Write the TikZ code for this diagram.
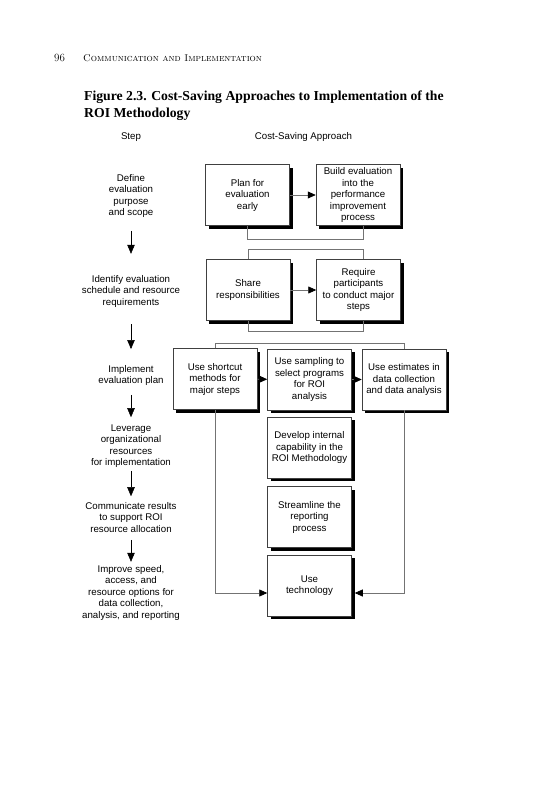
\documentclass[tikz,border=0pt]{standalone}
\usepackage{fontspec}
\setsansfont{Liberation Sans}
\newfontfamily\titlefont{Liberation Serif}
\usetikzlibrary{arrows.meta,positioning,shadows}

\tikzset{
 apbox/.style={draw=black!75,line width=.5pt,fill=white,minimum width=84pt,minimum height=61pt,
   align=center,inner sep=1pt,font=\sffamily\fontsize{9.7}{11.5}\selectfont,
   drop shadow={shadow xshift=3pt,shadow yshift=-3pt,fill=black,opacity=1}},
 stepnote/.style={align=center,inner sep=0pt,font=\sffamily\fontsize{9.7}{11.5}\selectfont},
 steparrow/.style={line width=.5pt,-{Triangle[length=9pt,width=7.5pt]}},
 link/.style={draw=black!55,line width=.7pt},
 flow/.style={link,-{Triangle[length=8pt,width=7pt,color=black]}}
}

\begin{document}
\begin{tikzpicture}[x=1pt,y=-1pt]
\useasboundingbox[fill=white] (0,0) rectangle (535,800);

% page head and caption
\node[anchor=base west,inner sep=0pt,font=\fontsize{11}{13}\selectfont] (folio) at (54,62) {96};
\node[anchor=base west,inner sep=0pt,font=\fontsize{9.8}{13}\selectfont] (runhead) at (83,62) {\textsc{Communication and Implementation}};
\node[anchor=base west,align=left,inner sep=0pt,font=\titlefont\bfseries\fontsize{13.7}{17}\selectfont] (caption) at (84,117.5)
  {Figure 2.3. Cost-Saving Approaches to Implementation of the\\ROI Methodology};

% column heads
\node[stepnote] (stephead) at (131,137) {Step};
\node[stepnote] (approachhead) at (303.5,137) {Cost-Saving Approach};

% steps
\node[stepnote] (define) at (131,196) {Define\\evaluation\\purpose\\and scope};
\node[stepnote] (identify) at (131,291) {Identify evaluation\\schedule and resource\\requirements};
\node[stepnote] (implement) at (131,375.5) {Implement\\evaluation plan};
\node[stepnote] (leverage) at (131,446) {Leverage\\organizational\\resources\\for implementation};
\node[stepnote] (communicate) at (131,517.5) {Communicate results\\to support ROI\\resource allocation};
\node[stepnote] (improve) at (131,592.5) {Improve speed,\\access, and\\resource options for\\data collection,\\analysis, and reporting};

\draw[steparrow,shorten <=13pt,shorten >=21pt] (define) -- (identify);
\draw[steparrow,shorten <=17pt,shorten >=16pt] (identify) -- (implement);
\draw[steparrow,shorten <=9pt,shorten >=7pt] (implement) -- (leverage);
\draw[steparrow,shorten <=3pt,shorten >=6pt] (leverage) -- (communicate);
\draw[steparrow,shorten <=7pt,shorten >=3pt] (communicate) -- (improve);

% approaches
\node[apbox] (plan) at (247.5,195) {Plan for\\evaluation\\early};
\node[apbox] (build) at (358,195) {Build evaluation\\into the\\performance\\improvement\\process};
\node[apbox] (share) at (248,290) {Share\\responsibilities};
\node[apbox] (require) at (358.5,290) {Require\\participants\\to conduct major\\steps};
\node[apbox] (shortcut) at (215,379) {Use shortcut\\methods for\\major steps};
\node[apbox] (sampling) at (309.5,379.5) {Use sampling to\\select programs\\for ROI\\analysis};
\node[apbox] (estimates) at (404,379.5) {Use estimates in\\data collection\\and data analysis};
\node[apbox] (internal) at (309.5,447.5) {Develop internal\\capability in the\\ROI Methodology};
\node[apbox] (streamline) at (309.5,517) {Streamline the\\reporting\\process};
\node[apbox] (technology) at (309.5,585.5) {Use\\technology};

\draw[flow] (plan) -- (build);
\draw[flow] (share) -- (require);
\draw[flow] (shortcut) -- (sampling);
\draw[flow] (sampling) -- (estimates);

\draw[link] (plan.south) -- ++(0,14) -| ([xshift=5pt]build.south);
\draw[link] (share.north) -- ++(0,-10) -| ([xshift=4.5pt]require.north);
\draw[link] (share.south) -- ++(0,11) -| ([xshift=4.5pt]require.south);
\draw[link] (shortcut.north) -- ++(0,-5) -| (estimates.north);
\draw[flow] (shortcut.south) |- ([yshift=-7.5pt]technology.west);
\draw[flow] (estimates.south) |- ([yshift=-7.5pt,xshift=3pt]technology.east);
\end{tikzpicture}
\end{document}
